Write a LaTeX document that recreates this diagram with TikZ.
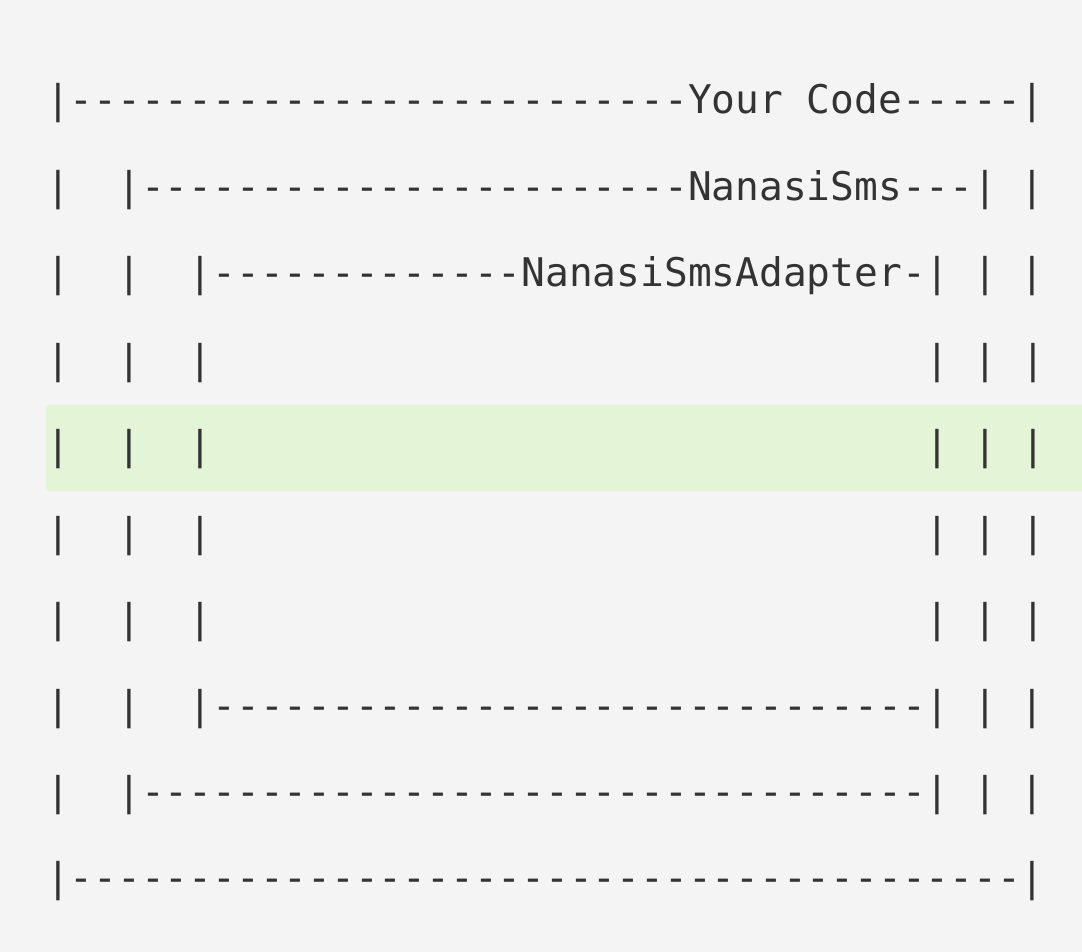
\documentclass[tikz,border=0pt]{standalone}
\usepackage{fontspec}
\setmonofont{DejaVu Sans Mono}
\definecolor{codebg}{HTML}{F4F4F4}
\definecolor{hlbg}{HTML}{E3F5D6}
\definecolor{codeink}{HTML}{333333}
\newcommand\rep[2]{\foreach \n in {1,...,#1}{#2}}
\tikzset{codeline/.style={anchor=base west, inner sep=0pt, text=codeink,
    font=\ttfamily\fontsize{39.5}{47}\selectfont}}
\begin{document}
\begin{tikzpicture}[x=1pt,y=-1pt]
\fill[codebg] (0,0) rectangle (1082,952);
\useasboundingbox (0,0) rectangle (1082,952);
\fill[hlbg] (46,405) rectangle (1082,490.7);
% outer frames
\node[codeline] (row0) at (45.8,114) {|\rep{26}{-}Your~Code\rep{5}{-}|};
\node[codeline] (row1) at (45.8,114+86.44) {|~~|\rep{23}{-}NanasiSms\rep{3}{-}|~|};
\node[codeline] (row2) at (45.8,114+2*86.44) {|~~|~~|\rep{13}{-}NanasiSmsAdapter-|~|~|};
% empty body
\foreach \i in {3,...,6}{
    \node[codeline] (row\i) at (45.8,114+\i*86.44) {|~~|~~|\rep{30}{~}|~|~|};
}
\node[codeline] (row7) at (45.8,114+7*86.44) {|~~|~~|\rep{30}{-}|~|~|};
\node[codeline] (row8) at (45.8,114+8*86.44) {|~~|\rep{33}{-}|~|~|};
\node[codeline] (row9) at (45.8,114+9*86.44) {|\rep{40}{-}|};
\end{tikzpicture}
\end{document}
